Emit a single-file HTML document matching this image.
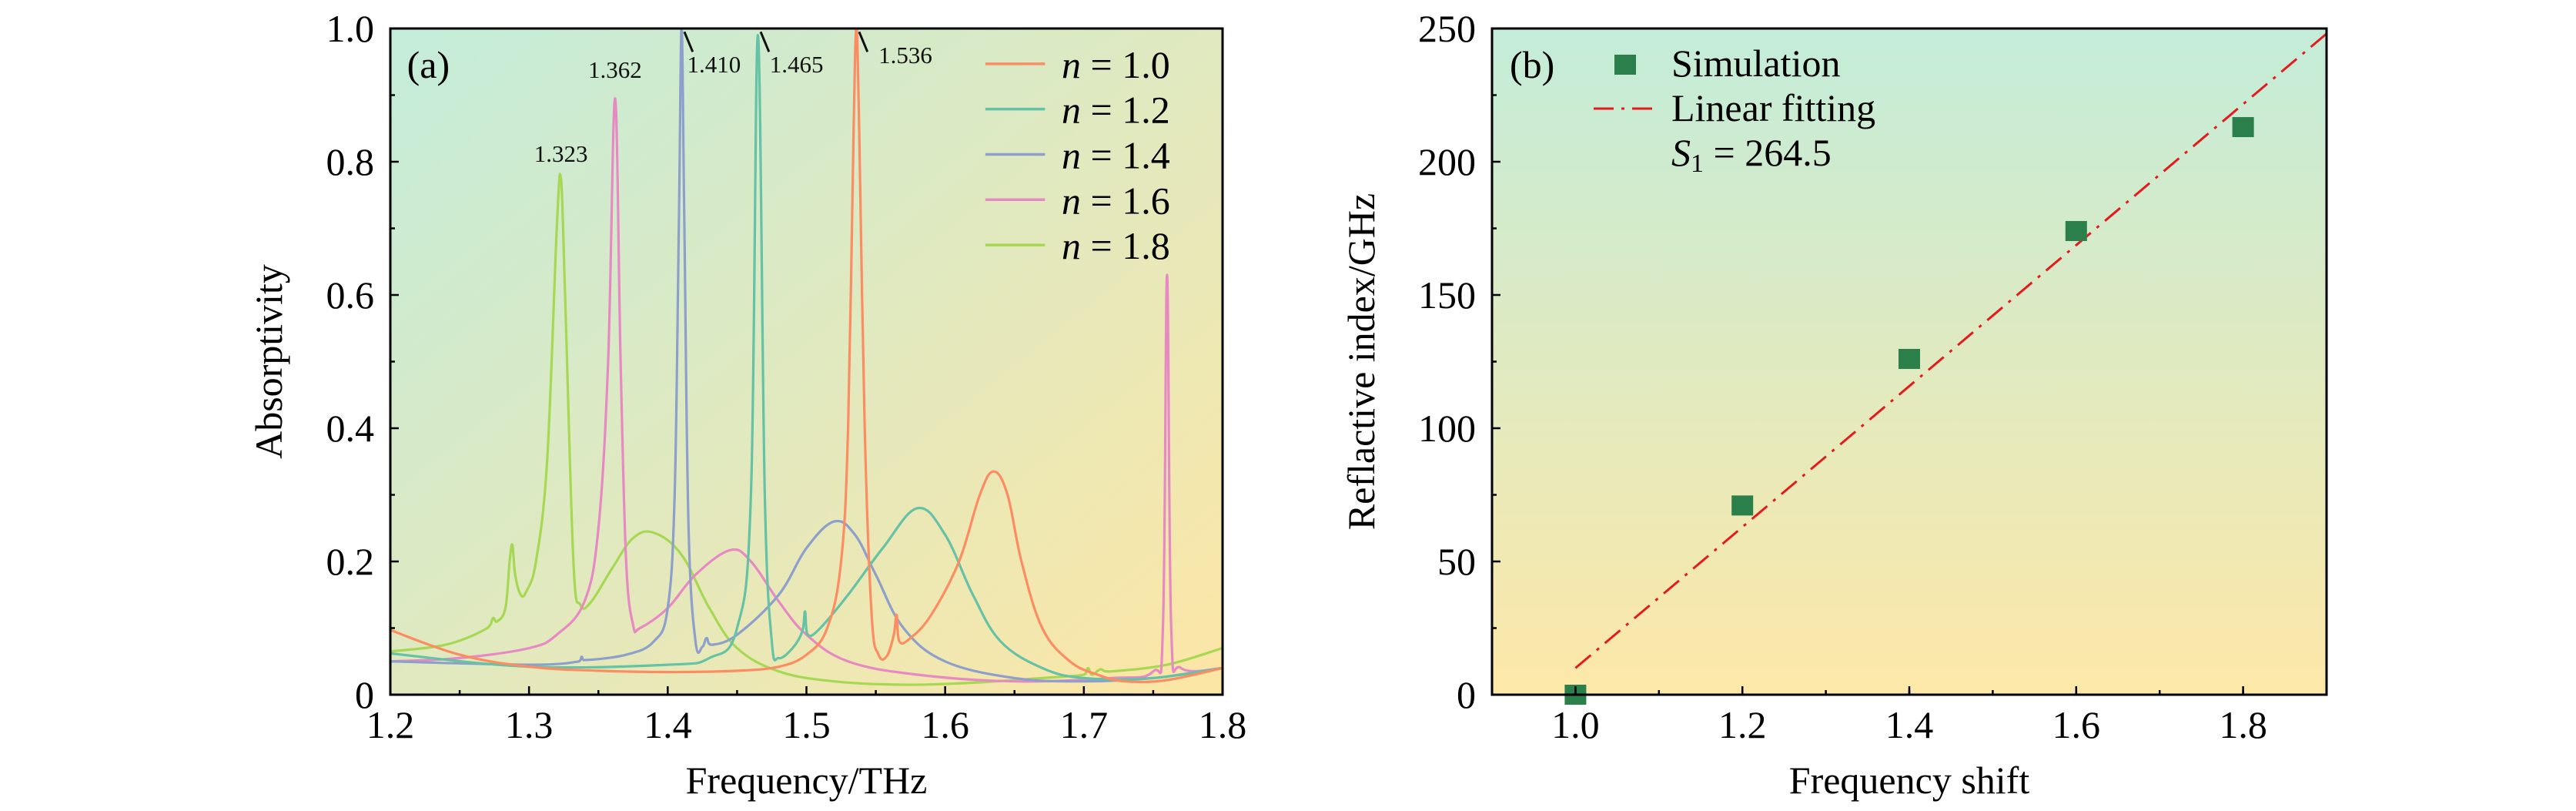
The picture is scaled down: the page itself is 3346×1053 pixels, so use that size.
<!DOCTYPE html>
<html><head><meta charset="utf-8"><style>
html,body{margin:0;padding:0;background:#fff;}
svg{display:block;}
svg text{font-family:"Liberation Serif","DejaVu Serif",serif;}
</style></head><body>
<svg id="fig" width="3346" height="1053" viewBox="0 0 3346 1053" xmlns="http://www.w3.org/2000/svg" font-family="Liberation Serif, serif">
<defs>
<linearGradient id="gA" x1="0" y1="0" x2="1" y2="1"><stop offset="0" stop-color="#c3ecda"/><stop offset="1" stop-color="#fde6a5"/></linearGradient>
<linearGradient id="gB" x1="0" y1="0" x2="0" y2="1"><stop offset="0" stop-color="#c3ecd9"/><stop offset="1" stop-color="#fde8a8"/></linearGradient>
<clipPath id="clipA"><rect x="507" y="37" width="1081" height="865"/></clipPath>
</defs>
<g id="panelA"></g>
<g id="panelB"></g>
</svg>
<script>
// ---- Panel (a) data ----
const seriesNames = ["n = 1.0","n = 1.2","n = 1.4","n = 1.6","n = 1.8"];
const seriesColors = ["#fc8d62","#66c2a5","#8da0cb","#e78ac3","#a6d854"];
const curveN10 = [[1.2,.097],[1.25,.06],[1.3,.042],[1.35,.036],[1.4,.034],[1.45,.036],[1.48,.042],[1.5,.06],[1.515,.1],[1.525,.2],[1.53,.4],[1.534,.85],[1.536,1.0],[1.538,.85],[1.542,.4],[1.547,.12],[1.552,.06],[1.558,.058],[1.563,.09],[1.565,.12],[1.567,.08],[1.575,.085],[1.59,.12],[1.61,.2],[1.625,.3],[1.635,.335],[1.645,.3],[1.655,.2],[1.67,.1],[1.69,.05],[1.71,.03],[1.73,.02],[1.76,.022],[1.8,.04]];
const curveN12 = [[1.2,.062],[1.3,.042],[1.4,.045],[1.43,.055],[1.45,.1],[1.46,.3],[1.465,.99],[1.47,.3],[1.475,.08],[1.48,.055],[1.49,.07],[1.497,.095],[1.499,.125],[1.501,.09],[1.51,.1],[1.53,.15],[1.555,.22],[1.58,.28],[1.6,.24],[1.62,.15],[1.64,.08],[1.67,.04],[1.7,.025],[1.75,.025],[1.8,.04]];
const curveN14 = [[1.2,.05],[1.3,.045],[1.336,.05],[1.338,.057],[1.34,.052],[1.37,.06],[1.39,.08],[1.4,.13],[1.405,.3],[1.408,.7],[1.41,1.0],[1.412,.7],[1.415,.25],[1.42,.08],[1.425,.072],[1.428,.085],[1.432,.075],[1.45,.09],[1.48,.15],[1.5,.22],[1.52,.26],[1.535,.24],[1.55,.18],[1.57,.1],[1.6,.05],[1.65,.025],[1.7,.02],[1.75,.025],[1.8,.04]];
const curveN16 = [[1.2,.05],[1.25,.055],[1.3,.07],[1.32,.09],[1.34,.14],[1.35,.25],[1.357,.5],[1.362,.895],[1.366,.5],[1.37,.2],[1.375,.105],[1.38,.1],[1.4,.13],[1.42,.18],[1.445,.217],[1.46,.2],[1.48,.14],[1.5,.09],[1.53,.05],[1.58,.03],[1.65,.02],[1.72,.025],[1.75,.035],[1.757,.1],[1.76,.63],[1.763,.1],[1.77,.04],[1.8,.04]];
const curveN18 = [[1.2,.065],[1.24,.075],[1.27,.1],[1.274,.115],[1.277,.11],[1.283,.13],[1.286,.2],[1.288,.225],[1.29,.18],[1.294,.15],[1.298,.155],[1.305,.2],[1.313,.35],[1.32,.7],[1.323,.775],[1.326,.6],[1.332,.2],[1.337,.135],[1.345,.14],[1.36,.19],[1.375,.235],[1.39,.243],[1.41,.21],[1.43,.13],[1.45,.07],[1.48,.035],[1.52,.02],[1.57,.015],[1.62,.018],[1.67,.025],[1.7,.03],[1.703,.04],[1.706,.03],[1.712,.038],[1.72,.035],[1.76,.045],[1.8,.07]];
const xTicksA = [1.2,1.3,1.4,1.5,1.6,1.7,1.8];
const xTickLabelsA = ["1.2","1.3","1.4","1.5","1.6","1.7","1.8"];
const yTicksA = [0,0.2,0.4,0.6,0.8,1.0];
const yTickLabelsA = ["0","0.2","0.4","0.6","0.8","1.0"];
const peakLabels = ["1.323","1.362","1.410","1.465","1.536"];
const peakLabelX = [1.323,1.362,1.414,1.4735,1.552];
const peakLabelY = [0.80,0.926,0.934,0.934,0.948];
// ---- Panel (b) data ----
const simX = [1.0,1.2,1.4,1.6,1.8];
const simY = [0,71,126,174,213];
const fitSlope = [264.5];
const fitIntercept = [-254.5];
const fitRange = [1.0,1.9];
const xTicksB = [1.0,1.2,1.4,1.6,1.8];
const xTickLabelsB = ["1.0","1.2","1.4","1.6","1.8"];
const yTicksB = [0,50,100,150,200,250];
const yTickLabelsB = ["0","50","100","150","200","250"];

const NS="http://www.w3.org/2000/svg";
const FF='Liberation Serif, DejaVu Serif, serif';
function mk(tag,attrs,parent){const e=document.createElementNS(NS,tag);for(const k in attrs)e.setAttribute(k,attrs[k]);if(tag==='text'||tag==='tspan')e.setAttribute('font-family',FF);parent.appendChild(e);return e;}

// Panel A axes
const A={l:507,r:1588,t:37,b:902,x0:1.2,x1:1.8,y0:0,y1:1};
const ax=v=>A.l+(v-A.x0)/(A.x1-A.x0)*(A.r-A.l);
const ay=v=>A.b-(v-A.y0)/(A.y1-A.y0)*(A.b-A.t);
const pa=document.getElementById('panelA');
let bg=mk('rect',{x:A.l,y:A.t,width:A.r-A.l,height:A.b-A.t,fill:'url(#gA)'},pa);


function smoothPath(pts){
  const P=pts.map(p=>[ax(p[0]),ay(p[1])]);
  let d='M'+P[0][0].toFixed(1)+','+P[0][1].toFixed(1);
  for(let i=0;i<P.length-1;i++){
    const p0=P[Math.max(0,i-1)],p1=P[i],p2=P[i+1],p3=P[Math.min(P.length-1,i+2)];
    const t=0.18;
    let c1=[p1[0]+(p2[0]-p0[0])*t,p1[1]+(p2[1]-p0[1])*t];
    let c2=[p2[0]-(p3[0]-p1[0])*t,p2[1]-(p3[1]-p1[1])*t];
    c1[0]=Math.min(Math.max(c1[0],p1[0]),p2[0]);c2[0]=Math.min(Math.max(c2[0],p1[0]),p2[0]);
    d+=' C'+c1[0].toFixed(1)+','+c1[1].toFixed(1)+' '+c2[0].toFixed(1)+','+c2[1].toFixed(1)+' '+p2[0].toFixed(1)+','+p2[1].toFixed(1);
  }
  return d;
}
const curves=[curveN10,curveN12,curveN14,curveN16,curveN18];
const cg=mk('g',{'clip-path':'url(#clipA)'},pa);


for(let i=curves.length-1;i>=0;i--){
  const p=mk('path',{d:smoothPath(curves[i]),fill:'none',stroke:seriesColors[i],'stroke-width':3.2,'stroke-linejoin':'round'},cg);
  
  
}
for(let i=0;i<peakLabels.length;i++){
  const anchor=i<2?'middle':'start';
  const t=mk('text',{x:ax(peakLabelX[i]),y:ay(peakLabelY[i]),'font-size':31,'text-anchor':anchor,fill:'#111'},pa);
  t.textContent=peakLabels[i];
  
  
}
const pointerX=[1.410,1.465,1.536];
for(let i=0;i<pointerX.length;i++){
  const l=mk('line',{x1:ax(pointerX[i]+0.002),y1:ay(0.995),x2:ax(pointerX[i]+0.008),y2:ay(0.965),stroke:'#111','stroke-width':3},pa);
  
  
}
let fr=mk('rect',{x:A.l,y:A.t,width:A.r-A.l,height:A.b-A.t,fill:'none',stroke:'#000','stroke-width':3},pa);


for(let i=0;i<xTicksA.length;i++){
  const x=ax(xTicksA[i]);
  mk('line',{x1:x,y1:A.b,x2:x,y2:A.b-11,stroke:'#000','stroke-width':2.5},pa);
  if(i<xTicksA.length-1){const xm=ax(xTicksA[i]+0.05);mk('line',{x1:xm,y1:A.b,x2:xm,y2:A.b-6,stroke:'#000','stroke-width':2.5},pa);}
  const t=mk('text',{x:x,y:958,'font-size':50,'text-anchor':'middle'},pa);
  t.textContent=xTickLabelsA[i];
  
  
}
for(let i=0;i<yTicksA.length;i++){
  const y=ay(yTicksA[i]);
  mk('line',{x1:A.l,y1:y,x2:A.l+11,y2:y,stroke:'#000','stroke-width':2.5},pa);
  if(i<yTicksA.length-1){const ym=ay(yTicksA[i]+0.1);mk('line',{x1:A.l,y1:ym,x2:A.l+6,y2:ym,stroke:'#000','stroke-width':2.5},pa);}
  const t=mk('text',{x:486,y:y+17,'font-size':50,'text-anchor':'end'},pa);
  t.textContent=yTickLabelsA[i];
  
  
}
let xt=mk('text',{x:(A.l+A.r)/2,y:1030,'font-size':50,'text-anchor':'middle'},pa);
xt.textContent='Frequency/THz';


let yt=mk('text',{x:0,y:0,'font-size':50,'text-anchor':'middle',transform:'translate(366,'+((A.t+A.b)/2)+') rotate(-90)'},pa);
yt.textContent='Absorptivity';


let la=mk('text',{x:ax(1.212),y:ay(0.926),'font-size':50},pa);
la.textContent='(a)';


const legY=[0.947,0.879,0.811,0.743,0.675];
for(let i=0;i<seriesNames.length;i++){
  const g=mk('g',{},pa);
  
  
  mk('line',{x1:ax(1.629),x2:ax(1.672),y1:ay(legY[i]),y2:ay(legY[i]),stroke:seriesColors[i],'stroke-width':3.5},g);
  const t=mk('text',{x:ax(1.684),y:ay(legY[i])+18,'font-size':50},g);
  const s1=mk('tspan',{'font-style':'italic'},t);s1.textContent='n';
  const s2=mk('tspan',{},t);s2.textContent=' = '+seriesNames[i].slice(4);
}

// Panel B
const B={l:1938,r:3022,t:37,b:902,x0:0.9,x1:1.9,y0:0,y1:250};
const bx=v=>B.l+(v-B.x0)/(B.x1-B.x0)*(B.r-B.l);
const by=v=>B.b-(v-B.y0)/(B.y1-B.y0)*(B.b-B.t);
const pb=document.getElementById('panelB');
let bgb=mk('rect',{x:B.l,y:B.t,width:B.r-B.l,height:B.b-B.t,fill:'url(#gB)'},pb);


let fl=mk('line',{x1:bx(fitRange[0]),y1:by(fitSlope[0]*fitRange[0]+fitIntercept[0]),x2:bx(fitRange[1]),y2:by(fitSlope[0]*fitRange[1]+fitIntercept[0]),stroke:'#e41a1c','stroke-width':3,'stroke-dasharray':'26,10,4,10'},pb);


for(let i=0;i<simX.length;i++){
  const r=mk('rect',{x:bx(simX[i])-14,y:by(simY[i])-13,width:28,height:26,fill:'#2a7f4b'},pb);
  
  
}
let frb=mk('rect',{x:B.l,y:B.t,width:B.r-B.l,height:B.b-B.t,fill:'none',stroke:'#000','stroke-width':3},pb);


for(let v=0.9;v<1.95;v+=0.1){const x=bx(v);mk('line',{x1:x,y1:B.b,x2:x,y2:B.b-6,stroke:'#000','stroke-width':2.5},pb);}
for(let i=0;i<xTicksB.length;i++){
  const x=bx(xTicksB[i]);
  mk('line',{x1:x,y1:B.b,x2:x,y2:B.b-11,stroke:'#000','stroke-width':2.5},pb);
  const t=mk('text',{x:x,y:958,'font-size':50,'text-anchor':'middle'},pb);
  t.textContent=xTickLabelsB[i];
  
  
}
for(let i=0;i<yTicksB.length;i++){
  const y=by(yTicksB[i]);
  mk('line',{x1:B.l,y1:y,x2:B.l+11,y2:y,stroke:'#000','stroke-width':2.5},pb);
  if(i<yTicksB.length-1){const ym=by(yTicksB[i]+25);mk('line',{x1:B.l,y1:ym,x2:B.l+6,y2:ym,stroke:'#000','stroke-width':2.5},pb);}
  const t=mk('text',{x:1917,y:y+17,'font-size':50,'text-anchor':'end'},pb);
  t.textContent=yTickLabelsB[i];
  
  
}
let xtb=mk('text',{x:(B.l+B.r)/2,y:1030,'font-size':50,'text-anchor':'middle'},pb);
xtb.textContent='Frequency shift';


let ytb=mk('text',{x:0,y:0,'font-size':50,'text-anchor':'middle',transform:'translate(1785,'+((B.t+B.b)/2)+') rotate(-90)'},pb);
ytb.textContent='Reflactive index/GHz';


let lb=mk('text',{x:1961,y:101,'font-size':50},pb);
lb.textContent='(b)';


let lg1=mk('g',{},pb);


mk('rect',{x:2097,y:71,width:28,height:26,fill:'#2a7f4b'},lg1);
let ts=mk('text',{x:2171,y:99,'font-size':50},lg1);ts.textContent='Simulation';
let lg2=mk('g',{},pb);


mk('line',{x1:2070,y1:141,x2:2151,y2:141,stroke:'#e41a1c','stroke-width':3,'stroke-dasharray':'26,10,4,10'},lg2);
let tl=mk('text',{x:2171,y:157,'font-size':50},lg2);tl.textContent='Linear fitting';
let tsl=mk('text',{x:2171,y:215,'font-size':50},pb);


const a1=mk('tspan',{'font-style':'italic'},tsl);a1.textContent='S';
const a2=mk('tspan',{'font-size':34,dy:8},tsl);a2.textContent='1';
const a3=mk('tspan',{dy:-8},tsl);a3.textContent=' = 264.5';
</script>
</body></html>
